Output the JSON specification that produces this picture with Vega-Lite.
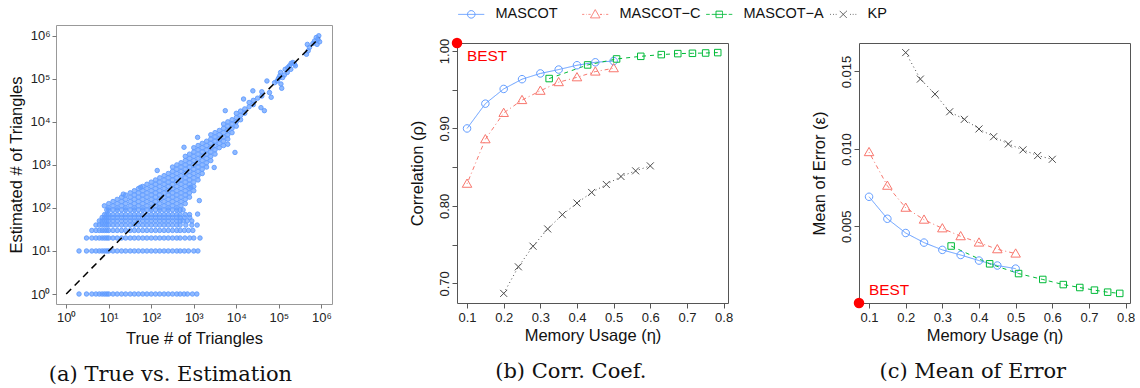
{
"$schema": "https://vega.github.io/schema/vega-lite/v6.json",
"padding": {"left": 8, "top": 7, "right": 0, "bottom": 0},
"autosize": {"type": "pad"},
"background": "white",
"config": {
  "font": "Liberation Sans",
  "view": {"stroke": "#555", "strokeWidth": 1},
  "axis": {"grid": false, "domain": false, "tickColor": "#555", "tickSize": 5, "labelFontSize": 13, "labelColor": "#222", "labelFont": "Liberation Sans", "titleFont": "Liberation Sans", "titleFontSize": 16.5, "titleFontWeight": "normal", "titleColor": "#111", "labelFlush": false, "labelOverlap": false, "labelSeparation": 0, "domainColor": "#555", "domainWidth": 1},
  "title": {"font": "DejaVu Serif", "fontSize": 21, "fontWeight": "normal", "color": "#111", "orient": "bottom", "anchor": "middle", "frame": "bounds"}
},
"datasets": {
"perf": [
{"s":"MASCOT","eta":0.10,"rho":0.900,"eps":0.00691},
{"s":"MASCOT","eta":0.15,"rho":0.932,"eps":0.00549},
{"s":"MASCOT","eta":0.20,"rho":0.951,"eps":0.00457},
{"s":"MASCOT","eta":0.25,"rho":0.9636,"eps":0.00395},
{"s":"MASCOT","eta":0.30,"rho":0.971,"eps":0.00348},
{"s":"MASCOT","eta":0.35,"rho":0.976,"eps":0.00315},
{"s":"MASCOT","eta":0.40,"rho":0.9816,"eps":0.00279},
{"s":"MASCOT","eta":0.45,"rho":0.9854,"eps":0.00247},
{"s":"MASCOT","eta":0.50,"rho":0.987,"eps":0.00227},
{"s":"MASCOT−C","eta":0.10,"rho":0.8286,"eps":0.00979},
{"s":"MASCOT−C","eta":0.15,"rho":0.886,"eps":0.00762},
{"s":"MASCOT−C","eta":0.20,"rho":0.920,"eps":0.0062},
{"s":"MASCOT−C","eta":0.25,"rho":0.9366,"eps":0.00543},
{"s":"MASCOT−C","eta":0.30,"rho":0.9486,"eps":0.00487},
{"s":"MASCOT−C","eta":0.35,"rho":0.9597,"eps":0.00436},
{"s":"MASCOT−C","eta":0.40,"rho":0.966,"eps":0.00395},
{"s":"MASCOT−C","eta":0.45,"rho":0.9734,"eps":0.00352},
{"s":"MASCOT−C","eta":0.50,"rho":0.9777,"eps":0.00324},
{"s":"MASCOT−A","eta":0.324,"rho":0.9644,"eps":0.00373},
{"s":"MASCOT−A","eta":0.429,"rho":0.982,"eps":0.00258},
{"s":"MASCOT−A","eta":0.508,"rho":0.9897,"eps":0.00195},
{"s":"MASCOT−A","eta":0.574,"rho":0.9931,"eps":0.00157},
{"s":"MASCOT−A","eta":0.630,"rho":0.9953,"eps":0.00124},
{"s":"MASCOT−A","eta":0.675,"rho":0.9966,"eps":0.00105},
{"s":"MASCOT−A","eta":0.715,"rho":0.997,"eps":0.00088},
{"s":"MASCOT−A","eta":0.751,"rho":0.9974,"eps":0.00075},
{"s":"MASCOT−A","eta":0.784,"rho":0.9979,"eps":0.00067},
{"s":"KP","eta":0.20,"rho":0.6871,"eps":0.01622},
{"s":"KP","eta":0.24,"rho":0.7214,"eps":0.01451},
{"s":"KP","eta":0.28,"rho":0.748,"eps":0.01354},
{"s":"KP","eta":0.32,"rho":0.7703,"eps":0.0124},
{"s":"KP","eta":0.36,"rho":0.7887,"eps":0.01191},
{"s":"KP","eta":0.40,"rho":0.8037,"eps":0.01129},
{"s":"KP","eta":0.44,"rho":0.8174,"eps":0.01079},
{"s":"KP","eta":0.48,"rho":0.8277,"eps":0.01032},
{"s":"KP","eta":0.52,"rho":0.838,"eps":0.00994},
{"s":"KP","eta":0.56,"rho":0.8453,"eps":0.00957},
{"s":"KP","eta":0.60,"rho":0.8517,"eps":0.00933}
],
"tri": [
{"t":2,"e":1},{"t":3,"e":1},{"t":4,"e":1},{"t":5,"e":1},{"t":6,"e":1},{"t":7,"e":1},{"t":8,"e":1},{"t":9,"e":1},{"t":10,"e":1},{"t":12.6,"e":1},{"t":15.8,"e":1},{"t":20,"e":1},{"t":25,"e":1},{"t":32,"e":1},{"t":40,"e":1},{"t":50,"e":1},{"t":63,"e":1},{"t":79,"e":1},{"t":100,"e":1},{"t":126,"e":1},{"t":158,"e":1},{"t":200,"e":1},{"t":251,"e":1},{"t":316,"e":1},{"t":398,"e":1},{"t":478,"e":1},{"t":590,"e":1},{"t":710,"e":1},{"t":930,"e":1},{"t":1180,"e":1},
{"t":2,"e":10},{"t":3,"e":10},{"t":4,"e":10},{"t":5,"e":10},{"t":6,"e":10},{"t":7,"e":10},{"t":8,"e":10},{"t":9,"e":10},{"t":10,"e":10},{"t":12.6,"e":10},{"t":15.8,"e":10},{"t":20,"e":10},{"t":25,"e":10},{"t":32,"e":10},{"t":40,"e":10},{"t":50,"e":10},{"t":63,"e":10},{"t":79,"e":10},{"t":100,"e":10},{"t":126,"e":10},{"t":158,"e":10},{"t":200,"e":10},{"t":251,"e":10},{"t":316,"e":10},{"t":398,"e":10},{"t":478,"e":10},{"t":600,"e":10},{"t":750,"e":10},{"t":1000,"e":10},{"t":1250,"e":10},
{"t":3,"e":20},{"t":4,"e":20},{"t":5,"e":20},{"t":6,"e":20},{"t":7,"e":20},{"t":8,"e":20},{"t":9,"e":20},{"t":10,"e":20},{"t":12.6,"e":20},{"t":15.8,"e":20},{"t":20,"e":20},{"t":25,"e":20},{"t":32,"e":20},{"t":40,"e":20},{"t":50,"e":20},{"t":63,"e":20},{"t":79,"e":20},{"t":100,"e":20},{"t":126,"e":20},{"t":158,"e":20},{"t":200,"e":20},{"t":251,"e":20},{"t":316,"e":20},{"t":398,"e":20},{"t":478,"e":20},{"t":620,"e":20},{"t":800,"e":20},{"t":1000,"e":20},{"t":1400,"e":20},
{"t":4,"e":30},{"t":5,"e":30},{"t":6,"e":30},{"t":7,"e":30},{"t":8,"e":30},{"t":9,"e":30},{"t":10,"e":30},{"t":12.6,"e":30},{"t":15.8,"e":30},{"t":20,"e":30},{"t":25,"e":30},{"t":32,"e":30},{"t":40,"e":30},{"t":50,"e":30},{"t":63,"e":30},{"t":79,"e":30},{"t":100,"e":30},{"t":126,"e":30},{"t":158,"e":30},{"t":200,"e":30},{"t":251,"e":30},{"t":316,"e":30},{"t":398,"e":30},{"t":478,"e":30},{"t":600,"e":30},{"t":750,"e":30},{"t":950,"e":30},
{"t":5,"e":40},{"t":6,"e":40},{"t":7,"e":40},{"t":8,"e":40},{"t":9,"e":40},{"t":10,"e":40},{"t":12.6,"e":40},{"t":15.8,"e":40},{"t":20,"e":40},{"t":25,"e":40},{"t":32,"e":40},{"t":40,"e":40},{"t":50,"e":40},{"t":63,"e":40},{"t":79,"e":40},{"t":100,"e":40},{"t":126,"e":40},{"t":158,"e":40},{"t":200,"e":40},{"t":251,"e":40},{"t":316,"e":40},{"t":398,"e":40},{"t":478,"e":40},{"t":650,"e":40},{"t":900,"e":40},{"t":1200,"e":40},
{"t":6,"e":50},{"t":7,"e":50},{"t":8,"e":50},{"t":9,"e":50},{"t":10,"e":50},{"t":12.6,"e":50},{"t":15.8,"e":50},{"t":20,"e":50},{"t":25,"e":50},{"t":32,"e":50},{"t":40,"e":50},{"t":50,"e":50},{"t":63,"e":50},{"t":79,"e":50},{"t":100,"e":50},{"t":126,"e":50},{"t":158,"e":50},{"t":200,"e":50},{"t":251,"e":50},{"t":316,"e":50},{"t":398,"e":50},{"t":478,"e":50},{"t":560,"e":50},{"t":700,"e":50},{"t":900,"e":50},
{"t":7,"e":60},{"t":8,"e":60},{"t":9,"e":60},{"t":10,"e":60},{"t":12.6,"e":60},{"t":15.8,"e":60},{"t":20,"e":60},{"t":25,"e":60},{"t":32,"e":60},{"t":40,"e":60},{"t":50,"e":60},{"t":63,"e":60},{"t":79,"e":60},{"t":100,"e":60},{"t":126,"e":60},{"t":158,"e":60},{"t":200,"e":60},{"t":251,"e":60},{"t":316,"e":60},{"t":398,"e":60},{"t":478,"e":60},{"t":600,"e":60},{"t":800,"e":60},
{"t":8,"e":70},{"t":9,"e":70},{"t":10,"e":70},{"t":12.6,"e":70},{"t":15.8,"e":70},{"t":20,"e":70},{"t":25,"e":70},{"t":32,"e":70},{"t":40,"e":70},{"t":50,"e":70},{"t":63,"e":70},{"t":79,"e":70},{"t":100,"e":70},{"t":126,"e":70},{"t":158,"e":70},{"t":200,"e":70},{"t":251,"e":70},{"t":316,"e":70},{"t":398,"e":70},{"t":478,"e":70},{"t":631,"e":70},{"t":794,"e":70},
{"t":9,"e":90},{"t":10,"e":90},{"t":12.6,"e":90},{"t":15.8,"e":90},{"t":20,"e":90},{"t":25,"e":90},{"t":32,"e":90},{"t":40,"e":90},{"t":50,"e":90},{"t":63,"e":90},{"t":79,"e":90},{"t":100,"e":90},{"t":126,"e":90},{"t":158,"e":90},{"t":200,"e":90},{"t":251,"e":90},{"t":316,"e":90},{"t":398,"e":90},{"t":478,"e":90},{"t":560,"e":90},
{"t":7.9,"e":112},
{"t":10,"e":100},{"t":10,"e":126},
{"t":12.6,"e":112},{"t":12.6,"e":141},
{"t":15.8,"e":100},{"t":15.8,"e":126},{"t":15.8,"e":158},
{"t":20,"e":112},{"t":20,"e":141},{"t":20,"e":178},
{"t":25,"e":100},{"t":25,"e":126},{"t":25,"e":158},{"t":25,"e":200},
{"t":32,"e":112},{"t":32,"e":141},{"t":32,"e":178},{"t":32,"e":224},
{"t":40,"e":100},{"t":40,"e":126},{"t":40,"e":158},{"t":40,"e":200},{"t":40,"e":251},
{"t":50,"e":112},{"t":50,"e":141},{"t":50,"e":178},{"t":50,"e":224},{"t":50,"e":282},
{"t":63,"e":100},{"t":63,"e":126},{"t":63,"e":158},{"t":63,"e":200},{"t":63,"e":251},{"t":63,"e":316},
{"t":79,"e":112},{"t":79,"e":141},{"t":79,"e":178},{"t":79,"e":224},{"t":79,"e":282},{"t":79,"e":355},
{"t":100,"e":100},{"t":100,"e":126},{"t":100,"e":158},{"t":100,"e":200},{"t":100,"e":251},{"t":100,"e":316},{"t":100,"e":398},
{"t":126,"e":112},{"t":126,"e":141},{"t":126,"e":178},{"t":126,"e":224},{"t":126,"e":282},{"t":126,"e":355},{"t":126,"e":447},
{"t":158,"e":100},{"t":158,"e":126},{"t":158,"e":158},{"t":158,"e":200},{"t":158,"e":251},{"t":158,"e":316},{"t":158,"e":398},{"t":158,"e":501},
{"t":200,"e":112},{"t":200,"e":141},{"t":200,"e":178},{"t":200,"e":224},{"t":200,"e":282},{"t":200,"e":355},{"t":200,"e":447},{"t":200,"e":562},
{"t":251,"e":100},{"t":251,"e":126},{"t":251,"e":158},{"t":251,"e":200},{"t":251,"e":251},{"t":251,"e":316},{"t":251,"e":398},{"t":251,"e":501},{"t":251,"e":631},
{"t":316,"e":112},{"t":316,"e":141},{"t":316,"e":178},{"t":316,"e":224},{"t":316,"e":282},{"t":316,"e":355},{"t":316,"e":447},{"t":316,"e":562},{"t":316,"e":708},{"t":316,"e":891},
{"t":398,"e":100},{"t":398,"e":126},{"t":398,"e":158},{"t":398,"e":200},{"t":398,"e":251},{"t":398,"e":316},{"t":398,"e":398},{"t":398,"e":501},{"t":398,"e":631},{"t":398,"e":794},{"t":398,"e":1000},
{"t":501,"e":112},{"t":501,"e":141},{"t":501,"e":178},{"t":501,"e":224},{"t":501,"e":282},{"t":501,"e":355},{"t":501,"e":447},{"t":501,"e":562},{"t":501,"e":708},{"t":501,"e":891},{"t":501,"e":1120},
{"t":631,"e":126},{"t":631,"e":158},{"t":631,"e":200},{"t":631,"e":251},{"t":631,"e":316},{"t":631,"e":398},{"t":631,"e":501},{"t":631,"e":631},{"t":631,"e":794},{"t":631,"e":1000},{"t":631,"e":1260},{"t":631,"e":1580},
{"t":794,"e":178},{"t":794,"e":224},{"t":794,"e":282},{"t":794,"e":355},{"t":794,"e":447},{"t":794,"e":562},{"t":794,"e":708},{"t":794,"e":891},{"t":794,"e":1120},{"t":794,"e":1410},{"t":794,"e":1780},
{"t":1000,"e":251},{"t":1000,"e":316},{"t":1000,"e":398},{"t":1000,"e":501},{"t":1000,"e":631},{"t":1000,"e":794},{"t":1000,"e":1000},{"t":1000,"e":1260},{"t":1000,"e":1580},{"t":1000,"e":2000},{"t":1000,"e":2510},
{"t":1260,"e":447},{"t":1260,"e":562},{"t":1260,"e":708},{"t":1260,"e":891},{"t":1260,"e":1120},{"t":1260,"e":1410},{"t":1260,"e":1780},{"t":1260,"e":2240},{"t":1260,"e":2820},
{"t":1580,"e":631},{"t":1580,"e":794},{"t":1580,"e":1000},{"t":1580,"e":1260},{"t":1580,"e":1580},{"t":1580,"e":2000},{"t":1580,"e":2510},{"t":1580,"e":3160},
{"t":2000,"e":891},{"t":2000,"e":1120},{"t":2000,"e":1410},{"t":2000,"e":1780},{"t":2000,"e":2240},{"t":2000,"e":2820},{"t":2000,"e":3550},
{"t":2510,"e":1260},{"t":2510,"e":1580},{"t":2510,"e":2000},{"t":2510,"e":2510},{"t":2510,"e":3160},{"t":2510,"e":3980},{"t":2510,"e":5010},
{"t":3160,"e":1780},{"t":3160,"e":2240},{"t":3160,"e":2820},{"t":3160,"e":3550},{"t":3160,"e":4470},{"t":3160,"e":5620},
{"t":3980,"e":2510},{"t":3980,"e":3160},{"t":3980,"e":3980},{"t":3980,"e":5010},{"t":3980,"e":6310},
{"t":5010,"e":2820},{"t":5010,"e":3550},{"t":5010,"e":4470},{"t":5010,"e":5620},{"t":5010,"e":7080},{"t":5010,"e":8910},
{"t":6310,"e":3980},{"t":6310,"e":5010},{"t":6310,"e":6310},{"t":6310,"e":7940},{"t":6310,"e":10000},
{"t":7940,"e":5620},{"t":7940,"e":7080},{"t":7940,"e":8910},{"t":7940,"e":11200},
{"t":10000,"e":7940},{"t":10000,"e":10000},{"t":10000,"e":12600},{"t":10000,"e":15800},
{"t":12600,"e":11200},{"t":12600,"e":14100},{"t":12600,"e":17800},
{"t":15800,"e":15800},{"t":15800,"e":20000},
{"t":20000,"e":22400},{"t":20000,"e":28200},
{"t":25100,"e":25100},{"t":25100,"e":31600},
{"t":31600,"e":35500},
{"t":39800,"e":39800},{"t":39800,"e":50100},
{"t":138,"e":741},{"t":589,"e":2570},{"t":1230,"e":4365},{"t":5500,"e":18200},{"t":14800,"e":33900},{"t":24500,"e":52500},{"t":56,"e":302},{"t":22,"e":209},
{"t":1230,"e":72},{"t":1350,"e":148},{"t":850,"e":302},{"t":9300,"e":1950},{"t":3020,"e":870},{"t":6300,"e":3020},{"t":38000,"e":21400},{"t":45700,"e":18200},
{"t":52500,"e":89100},{"t":60300,"e":47900},{"t":66100,"e":37200},{"t":79400,"e":81300},{"t":91200,"e":89100},{"t":105000,"e":117000},{"t":110000,"e":141000},{"t":112000,"e":75900},{"t":117000,"e":60300},{"t":97700,"e":102000},{"t":123000,"e":107000},{"t":135000,"e":123000},{"t":141000,"e":166000},{"t":162000,"e":182000},{"t":178000,"e":200000},{"t":195000,"e":229000},{"t":214000,"e":240000},{"t":234000,"e":219000},{"t":158000,"e":141000},{"t":191000,"e":166000},{"t":245000,"e":200000},
{"t":447000,"e":372000},{"t":490000,"e":447000},{"t":525000,"e":537000},{"t":468000,"e":631000},{"t":692000,"e":759000},{"t":759000,"e":912000},{"t":794000,"e":631000},{"t":832000,"e":832000},{"t":871000,"e":1000000},{"t":912000,"e":724000},{"t":631000,"e":661000}
]
},
"spacing": 76,
"hconcat": [
{
  "width": 276, "height": 279,
  "title": {"text": "(a) True vs. Estimation", "offset": 17},
  "view": {"stroke": "#999"},
  "layer": [
    {"data": {"name": "tri"},
     "mark": {"type": "point", "filled": true, "fill": "#619CFF", "fillOpacity": 0.7, "stroke": "#619CFF", "strokeWidth": 0.9, "size": 20, "opacity": 1},
     "encoding": {
       "x": {"field": "t", "type": "quantitative", "scale": {"type": "log", "domain": [0.575, 1780000], "nice": false},
             "axis": {"values": [1,10,100,1000,10000,100000,1000000], "labelExpr": "'10' + ['⁰','¹','²','³','⁴','⁵','⁶'][round(log(datum.value)/LN10)]", "title": "True # of Triangles", "tickSize": 4, "tickColor": "#777", "labelPadding": 3, "titlePadding": 6, "labelOverlap": false}},
       "y": {"field": "e", "type": "quantitative", "scale": {"type": "log", "domain": [0.586, 1780000], "nice": false},
             "axis": {"values": [1,10,100,1000,10000,100000,1000000], "labelExpr": "'10' + ['⁰','¹','²','³','⁴','⁵','⁶'][round(log(datum.value)/LN10)]", "title": "Estimated # of Triangles", "tickSize": 4, "tickColor": "#777", "labelPadding": 2, "titlePadding": 5, "labelOverlap": false}}
     }},
    {"data": {"values": [{"t": 1, "e": 1}, {"t": 900000, "e": 900000}]},
     "mark": {"type": "line", "color": "#000", "strokeDash": [7, 5], "strokeWidth": 1.5},
     "encoding": {"x": {"field": "t", "type": "quantitative"}, "y": {"field": "e", "type": "quantitative"}}}
  ]
},
{
  "spacing": 77,
  "hconcat": [
  {
    "width": 271, "height": 278,
    "view": {"stroke": null},
    "title": {"text": "(b) Corr.  Coef.", "offset": 17},
    "resolve": {"axis": {"x": "independent", "y": "independent"}},
    "layer": [
      {"data": {"name": "perf"},
       "mark": {"type": "line", "strokeWidth": 1},
       "encoding": {
         "x": {"field": "eta", "type": "quantitative", "scale": {"domain": [0.0726, 0.812], "nice": false, "zero": false},
               "axis": {"values": [0.1,0.2,0.3,0.4,0.5,0.6,0.7,0.8], "labelExpr": "format(datum.value, '.1f')", "title": "Memory Usage (η)", "labelPadding": 3, "titlePadding": 3, "labelOverlap": false, "domain": true}},
         "y": {"field": "rho", "type": "quantitative", "scale": {"domain": [0.6747, 1.0103], "range": [278, 18], "nice": false, "zero": false},
               "axis": {"values": [0.7,0.75,0.8,0.85,0.9,0.95,1.0], "labelExpr": "round(datum.value*20) % 2 == 0 ? format(datum.value, '.2f') : ''", "labelAngle": -90, "labelAlign": "center", "labelBaseline": "bottom", "labelPadding": 1, "title": "Correlation (ρ)", "titlePadding": 13, "labelOverlap": false, "domain": true}},
         "color": {"field": "s", "type": "nominal", "scale": {"domain": ["MASCOT","MASCOT−C","MASCOT−A","KP"], "range": ["#619CFF","#F8766D","#00BA38","#4D4D4D"]},
                   "legend": {"orient": "none", "legendX": 408, "legendY": -18, "direction": "horizontal", "columns": 4, "gridAlign": "all", "columnPadding": 3, "title": null, "labelFontSize": 14.5, "labelColor": "#111", "labelOffset": 17, "symbolSize": 100, "symbolStrokeWidth": 1, "padding": 0,
                              "encoding": {"symbols": {"shape": {"value": {"expr": "['M-2.6,0H2.6M0.75,0A0.75,0.75,0,1,1,-0.75,0A0.75,0.75,0,1,1,0.75,0','M-2.6,0H-2.2M-1.8,0H-1.7M-1.35,0H-0.95M0,-0.95L0.95,0.7L-0.95,0.7ZM0.95,0H1.35M1.7,0H1.8M2.2,0H2.6','M-2.6,0H-1.9M-1.5,0H1.5M-0.65,-0.65H0.65V0.65H-0.65ZM1.9,0H2.6','M-2.6,0H-2.45M-2.05,0H-1.9M-1.5,0H-1.35M-0.7,-0.7L0.7,0.7M-0.7,0.7L0.7,-0.7M1.35,0H1.5M1.9,0H2.05M2.45,0H2.6'][datum.index]"}}, "fill": {"value": "transparent"}, "size": {"value": 100}, "strokeWidth": {"value": 1}, "opacity": {"value": 1}, "strokeDash": {"value": [1, 0]}}}}},
         "strokeDash": {"field": "s", "type": "nominal", "scale": {"domain": ["MASCOT−A","KP","MASCOT","MASCOT−C"], "range": [[4,4],[1,3],[1,0],[1,3,4,3]]}, "legend": null}
       }},
      {"data": {"name": "perf"},
       "mark": {"type": "point", "filled": false, "strokeWidth": 1, "size": 100, "opacity": 1},
       "encoding": {
         "x": {"field": "eta", "type": "quantitative", "axis": null},
         "y": {"field": "rho", "type": "quantitative", "axis": null},
         "color": {"field": "s", "type": "nominal", "scale": {"domain": ["MASCOT","MASCOT−C","MASCOT−A","KP"], "range": ["#619CFF","#F8766D","#00BA38","#4D4D4D"]},
                   "legend": {"orient": "none", "legendX": 408, "legendY": -18, "direction": "horizontal", "columns": 4, "gridAlign": "all", "columnPadding": 3, "title": null, "labelFontSize": 14.5, "labelColor": "#111", "labelOffset": 17, "symbolSize": 100, "symbolStrokeWidth": 1, "padding": 0,
                              "encoding": {"symbols": {"shape": {"value": {"expr": "['M-2.6,0H2.6M0.75,0A0.75,0.75,0,1,1,-0.75,0A0.75,0.75,0,1,1,0.75,0','M-2.6,0H-2.2M-1.8,0H-1.7M-1.35,0H-0.95M0,-0.95L0.95,0.7L-0.95,0.7ZM0.95,0H1.35M1.7,0H1.8M2.2,0H2.6','M-2.6,0H-1.9M-1.5,0H1.5M-0.65,-0.65H0.65V0.65H-0.65ZM1.9,0H2.6','M-2.6,0H-2.45M-2.05,0H-1.9M-1.5,0H-1.35M-0.7,-0.7L0.7,0.7M-0.7,0.7L0.7,-0.7M1.35,0H1.5M1.9,0H2.05M2.45,0H2.6'][datum.index]"}}, "fill": {"value": "transparent"}, "size": {"value": 100}, "strokeWidth": {"value": 1}, "opacity": {"value": 1}, "strokeDash": {"value": [1, 0]}}}}},
         "shape": {"field": "s", "type": "nominal", "scale": {"domain": ["KP","MASCOT","MASCOT−C","MASCOT−A"], "range": ["M-0.7,-0.7L0.7,0.7M-0.7,0.7L0.7,-0.7","M0.75,0A0.75,0.75,0,1,1,-0.75,0A0.75,0.75,0,1,1,0.75,0","M0,-0.95L0.95,0.7L-0.95,0.7Z","M-0.65,-0.65H0.65V0.65H-0.65Z"]}, "legend": null}
       }},
      {"data": {"values": [{"eta": 0.0726, "rho": 1.0103}]},
       "mark": {"type": "point", "filled": true, "color": "#FF0000", "size": 110, "opacity": 1},
       "encoding": {"x": {"field": "eta", "type": "quantitative", "axis": {"orient": "top", "offset": -18, "domain": true, "ticks": false, "labels": false, "title": null}},
                    "y": {"field": "rho", "type": "quantitative", "axis": {"orient": "right", "domain": true, "ticks": false, "labels": false, "title": null}}}},
      {"data": {"values": [{"eta": 0.1, "rho": 0.994, "label": "BEST"}]},
       "mark": {"type": "text", "align": "left", "baseline": "middle", "fontSize": 15.4, "color": "#FF0000"},
       "encoding": {"x": {"field": "eta", "type": "quantitative", "axis": null}, "y": {"field": "rho", "type": "quantitative", "axis": null}, "text": {"field": "label"}}}
    ]
  },
  {
    "width": 271, "height": 278,
    "view": {"stroke": null},
    "title": {"text": "(c) Mean of Error", "offset": 17},
    "resolve": {"axis": {"x": "independent", "y": "independent"}},
    "layer": [
      {"data": {"name": "perf"},
       "mark": {"type": "line", "strokeWidth": 1},
       "encoding": {
         "x": {"field": "eta", "type": "quantitative", "scale": {"domain": [0.0726, 0.812], "nice": false, "zero": false},
               "axis": {"values": [0.1,0.2,0.3,0.4,0.5,0.6,0.7,0.8], "labelExpr": "format(datum.value, '.1f')", "title": "Memory Usage (η)", "labelPadding": 3, "titlePadding": 3, "labelOverlap": false, "domain": true}},
         "y": {"field": "eps", "type": "quantitative", "scale": {"domain": [0.00005, 0.01684], "range": [278, 18], "nice": false, "zero": false},
               "axis": {"values": [0.005,0.01,0.015], "format": ".3f", "labelAngle": -90, "labelAlign": "center", "labelBaseline": "bottom", "labelPadding": 1, "title": "Mean of Error (ε)", "titlePadding": 13, "labelOverlap": false, "domain": true}},
         "color": {"field": "s", "type": "nominal", "scale": {"domain": ["MASCOT","MASCOT−C","MASCOT−A","KP"], "range": ["#619CFF","#F8766D","#00BA38","#4D4D4D"]},
                   "legend": {"orient": "none", "legendX": 408, "legendY": -18, "direction": "horizontal", "columns": 4, "gridAlign": "all", "columnPadding": 3, "title": null, "labelFontSize": 14.5, "labelColor": "#111", "labelOffset": 17, "symbolSize": 100, "symbolStrokeWidth": 1, "padding": 0,
                              "encoding": {"symbols": {"shape": {"value": {"expr": "['M-2.6,0H2.6M0.75,0A0.75,0.75,0,1,1,-0.75,0A0.75,0.75,0,1,1,0.75,0','M-2.6,0H-2.2M-1.8,0H-1.7M-1.35,0H-0.95M0,-0.95L0.95,0.7L-0.95,0.7ZM0.95,0H1.35M1.7,0H1.8M2.2,0H2.6','M-2.6,0H-1.9M-1.5,0H1.5M-0.65,-0.65H0.65V0.65H-0.65ZM1.9,0H2.6','M-2.6,0H-2.45M-2.05,0H-1.9M-1.5,0H-1.35M-0.7,-0.7L0.7,0.7M-0.7,0.7L0.7,-0.7M1.35,0H1.5M1.9,0H2.05M2.45,0H2.6'][datum.index]"}}, "fill": {"value": "transparent"}, "size": {"value": 100}, "strokeWidth": {"value": 1}, "opacity": {"value": 1}, "strokeDash": {"value": [1, 0]}}}}},
         "strokeDash": {"field": "s", "type": "nominal", "scale": {"domain": ["MASCOT−A","KP","MASCOT","MASCOT−C"], "range": [[4,4],[1,3],[1,0],[1,3,4,3]]}, "legend": null}
       }},
      {"data": {"name": "perf"},
       "mark": {"type": "point", "filled": false, "strokeWidth": 1, "size": 100, "opacity": 1},
       "encoding": {
         "x": {"field": "eta", "type": "quantitative", "axis": null},
         "y": {"field": "eps", "type": "quantitative", "axis": null},
         "color": {"field": "s", "type": "nominal", "scale": {"domain": ["MASCOT","MASCOT−C","MASCOT−A","KP"], "range": ["#619CFF","#F8766D","#00BA38","#4D4D4D"]},
                   "legend": {"orient": "none", "legendX": 408, "legendY": -18, "direction": "horizontal", "columns": 4, "gridAlign": "all", "columnPadding": 3, "title": null, "labelFontSize": 14.5, "labelColor": "#111", "labelOffset": 17, "symbolSize": 100, "symbolStrokeWidth": 1, "padding": 0,
                              "encoding": {"symbols": {"shape": {"value": {"expr": "['M-2.6,0H2.6M0.75,0A0.75,0.75,0,1,1,-0.75,0A0.75,0.75,0,1,1,0.75,0','M-2.6,0H-2.2M-1.8,0H-1.7M-1.35,0H-0.95M0,-0.95L0.95,0.7L-0.95,0.7ZM0.95,0H1.35M1.7,0H1.8M2.2,0H2.6','M-2.6,0H-1.9M-1.5,0H1.5M-0.65,-0.65H0.65V0.65H-0.65ZM1.9,0H2.6','M-2.6,0H-2.45M-2.05,0H-1.9M-1.5,0H-1.35M-0.7,-0.7L0.7,0.7M-0.7,0.7L0.7,-0.7M1.35,0H1.5M1.9,0H2.05M2.45,0H2.6'][datum.index]"}}, "fill": {"value": "transparent"}, "size": {"value": 100}, "strokeWidth": {"value": 1}, "opacity": {"value": 1}, "strokeDash": {"value": [1, 0]}}}}},
         "shape": {"field": "s", "type": "nominal", "scale": {"domain": ["KP","MASCOT","MASCOT−C","MASCOT−A"], "range": ["M-0.7,-0.7L0.7,0.7M-0.7,0.7L0.7,-0.7","M0.75,0A0.75,0.75,0,1,1,-0.75,0A0.75,0.75,0,1,1,0.75,0","M0,-0.95L0.95,0.7L-0.95,0.7Z","M-0.65,-0.65H0.65V0.65H-0.65Z"]}, "legend": null}
       }},
      {"data": {"values": [{"eta": 0.0726, "eps": 0.00005}]},
       "mark": {"type": "point", "filled": true, "color": "#FF0000", "size": 110, "opacity": 1},
       "encoding": {"x": {"field": "eta", "type": "quantitative", "axis": {"orient": "top", "offset": -18, "domain": true, "ticks": false, "labels": false, "title": null}},
                    "y": {"field": "eps", "type": "quantitative", "axis": {"orient": "right", "domain": true, "ticks": false, "labels": false, "title": null}}}},
      {"data": {"values": [{"eta": 0.1, "eps": 0.0009, "label": "BEST"}]},
       "mark": {"type": "text", "align": "left", "baseline": "middle", "fontSize": 15.4, "color": "#FF0000"},
       "encoding": {"x": {"field": "eta", "type": "quantitative", "axis": null}, "y": {"field": "eps", "type": "quantitative", "axis": null}, "text": {"field": "label"}}}
    ]
  }
  ]
}
]
}
